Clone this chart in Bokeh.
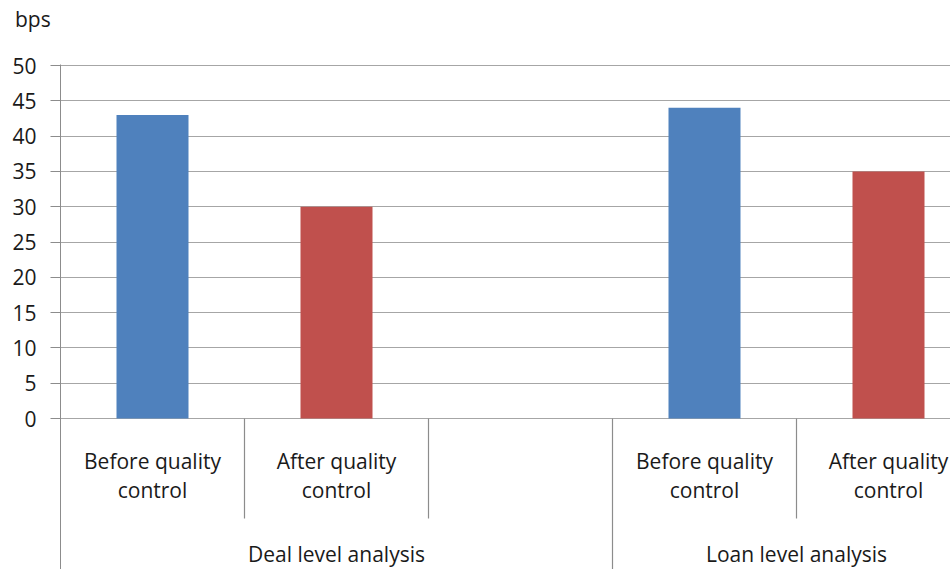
from bokeh.plotting import figure
from bokeh.models import Range1d, FixedTicker, Div
from bokeh.layouts import column
from bokeh.core.properties import value
from bokeh.embed import file_html
from bokeh.resources import INLINE

# ---- data ----
groups = ["Deal level analysis", "Loan level analysis"]
categories = ["Before quality\ncontrol", "After quality\ncontrol", "", "Before quality\ncontrol", "After quality\ncontrol"]
values = [43, 30, None, 44, 35]
bar_colors = ["#4F81BD", "#C0504D", None, "#4F81BD", "#C0504D"]
group_slots = [(0, 3), (3, 5)]   # slot spans of each group
y_ticks = [0, 5, 10, 15, 20, 25, 30, 35, 40, 45, 50]
unit_label = "bps"

FONT = "Open Sans"
FS = "21px"
TXT = "#1a1a1a"
W, H = 950, 569
DIV_H = 40
left, top = 60, 64 - DIV_H
zero_px = 418 - DIV_H
px_per_unit = (zero_px - (65 - DIV_H)) / 50.0
slot_px = 184.0
PH = H - DIV_H
y_min = -(PH - zero_px) / px_per_unit
y_max = 50 + 1 / px_per_unit
x_max = (W - left) / slot_px

header = Div(text=unit_label, width=W, height=DIV_H, margin=(0, 0, 0, 0),
             styles={"font-family": FONT, "font-size": FS, "color": TXT,
                     "padding-left": "15px", "padding-top": "6px", "line-height": "1.3",
                     "box-sizing": "border-box"})

p = figure(width=W, height=PH, output_backend="svg", toolbar_location=None,
           x_range=Range1d(0, x_max), y_range=Range1d(y_min, y_max),
           min_border_left=left, min_border_top=top, min_border_right=0, min_border_bottom=0,
           margin=(0, 0, 0, 0))

p.xaxis.visible = False
p.xgrid.visible = False
p.outline_line_color = None
p.background_fill_color = "white"
p.border_fill_color = "white"

yax = p.yaxis[0]
yax.ticker = FixedTicker(ticks=y_ticks)
yax.minor_tick_line_color = None
yax.major_tick_out = 10
yax.major_tick_in = 0
yax.major_label_standoff = 14
yax.axis_line_color = "#8C8C8C"
yax.major_tick_line_color = "#8C8C8C"
yax.major_label_text_font = FONT
yax.major_label_text_font_size = FS
yax.major_label_text_color = TXT
p.ygrid.ticker = FixedTicker(ticks=y_ticks)
p.ygrid.grid_line_color = "#A6A6A6"
p.ygrid.grid_line_width = 1.2

# bars
xs, tops, cols = [], [], []
for i, (v, c) in enumerate(zip(values, bar_colors)):
    if v is not None:
        xs.append(i + 0.5); tops.append(v); cols.append(c)
p.vbar(x=xs, top=tops, bottom=0, width=72 / slot_px, fill_color=cols, line_color=None)

# separators
sep_inner = (zero_px - (518 - DIV_H)) / px_per_unit
x0s, y0s, x1s, y1s = [], [], [], []
group_edges = [g[0] for g in group_slots] + [group_slots[-1][1]]
for b in range(1, len(categories) + 1):
    bottom_y = y_min if b in group_edges else sep_inner
    x0s.append(b); y0s.append(0); x1s.append(b); y1s.append(bottom_y)
p.segment(x0=x0s, y0=y0s, x1=x1s, y1=y1s, line_color="#8C8C8C", line_width=1.2)

# category labels
l1_y = (zero_px - (460 - DIV_H)) / px_per_unit
l2_y = (zero_px - (489 - DIV_H)) / px_per_unit
lx, ly, lt = [], [], []
for i, c in enumerate(categories):
    if not c:
        continue
    for j, part in enumerate(c.split("\n")):
        lx.append(i + 0.5); ly.append(l1_y if j == 0 else l2_y); lt.append(part)
p.text(x=lx, y=ly, text=lt, text_font=value(FONT), text_font_size=FS,
       text_align="center", text_baseline="middle", text_color=TXT)

g_y = (zero_px - (553 - DIV_H)) / px_per_unit
gx = [(a + b) / 2 for a, b in group_slots]
p.text(x=gx, y=[g_y] * len(gx), text=groups, text_font=value(FONT), text_font_size=FS,
       text_align="center", text_baseline="middle", text_color=TXT)

layout = column(header, p, spacing=0, margin=(0, 0, 0, 0))
open("out.html", "w").write(file_html(layout, INLINE))
